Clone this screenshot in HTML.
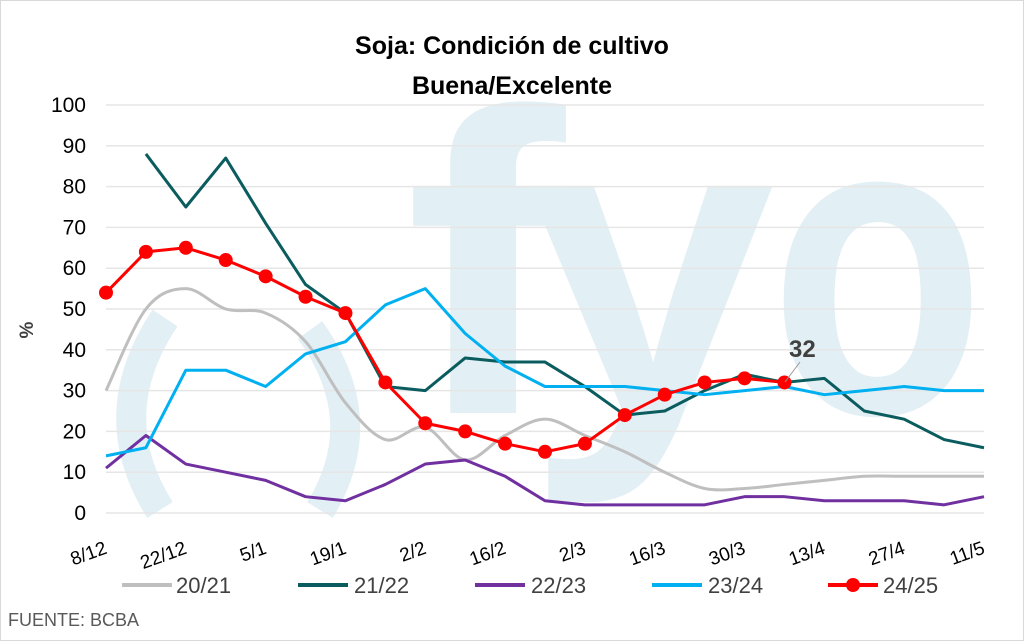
<!DOCTYPE html>
<html><head><meta charset="utf-8"><style>
html,body{margin:0;padding:0;background:#fff}
svg{display:block;font-family:"Liberation Sans",sans-serif}
</style></head><body>
<svg id="s" width="1024" height="641" viewBox="0 0 1024 641" xmlns="http://www.w3.org/2000/svg">
<rect x="0.5" y="0.5" width="1023" height="640" fill="#fff" stroke="#d9d9d9"/>
<g fill="#e2eff4">
<text x="405" y="413" font-size="430" font-weight="bold" textLength="160" lengthAdjust="spacingAndGlyphs">f</text>
<text x="525" y="413" font-size="430" font-weight="bold" textLength="250" lengthAdjust="spacingAndGlyphs">y</text>
<text x="770" y="413" font-size="430" font-weight="bold" textLength="215" lengthAdjust="spacingAndGlyphs">o</text>
</g>
<g fill="none" stroke="#e2eff4" stroke-width="30">
<path d="M165 318 Q100 415 160 510"/>
<path d="M310 330 Q375 420 320 510"/>
</g>
<g stroke="#e6e6e6" stroke-width="1.5" id="grid"></g>
<g font-size="21" fill="#000" text-anchor="end" id="yt"></g>
<text transform="translate(33,330) rotate(-90)" font-size="19" font-weight="bold" fill="#404040" text-anchor="middle">%</text>
<text x="512" y="54" font-size="25" font-weight="bold" text-anchor="middle">Soja: Condición de cultivo</text>
<text x="512" y="94" font-size="25" font-weight="bold" text-anchor="middle">Buena/Excelente</text>
<g id="series"></g>
<g font-size="19" fill="#000" text-anchor="end" id="xt"></g>
<line x1="785" y1="382" x2="800" y2="362" stroke="#999" stroke-width="1"/>
<text x="789" y="357" font-size="24" font-weight="bold" fill="#404040">32</text>
<g font-size="22" fill="#404040">
<line x1="122" y1="585" x2="172" y2="585" stroke="#bfbfbf" stroke-width="4"/><text x="176" y="593">20/21</text>
<line x1="298" y1="585" x2="348" y2="585" stroke="#0a5c5f" stroke-width="4"/><text x="354" y="593">21/22</text>
<line x1="475" y1="585" x2="525" y2="585" stroke="#7030a0" stroke-width="4"/><text x="531" y="593">22/23</text>
<line x1="652" y1="585" x2="702" y2="585" stroke="#00b0f0" stroke-width="4"/><text x="708" y="593">23/24</text>
<line x1="828" y1="585" x2="878" y2="585" stroke="#ff0000" stroke-width="4"/><circle cx="853" cy="585" r="7" fill="#ff0000"/><text x="883" y="593">24/25</text>
</g>
<text x="8" y="626" font-size="18" fill="#595959">FUENTE: BCBA</text>
</svg>
<script>
var NS="http://www.w3.org/2000/svg";
function el(t,a,p){var e=document.createElementNS(NS,t);for(var k in a)e.setAttribute(k,a[k]);if(p)p.appendChild(e);return e;}
var X0=106,X1=984,Y0=513,Y1=105;
function X(i){return X0+i*(X1-X0)/22}
function Y(v){return Y0-v*(Y0-Y1)/100}
var g=document.getElementById('grid'),yt=document.getElementById('yt');
for(var v=0;v<=100;v+=10){el('line',{x1:X0,x2:X1,y1:Y(v),y2:Y(v)},g);var t=el('text',{x:86,y:Y(v)+7},yt);t.textContent=v;}
var labs=["8/12","22/12","5/1","19/1","2/2","16/2","2/3","16/3","30/3","13/4","27/4","11/5"];
var xt=document.getElementById('xt');
labs.forEach(function(l,k){var x=X(k*2)+2,y=553;var t=el('text',{x:x,y:y,transform:"rotate(-20 "+x+" "+y+")"},xt);t.textContent=l;});
var S=document.getElementById('series');
function path(d,start,col,w,smooth){
 var pts=d.map(function(v,i){return [X(i+start),Y(v)]});
 var s="M"+pts[0][0]+" "+pts[0][1];
 if(smooth){for(var i=0;i<pts.length-1;i++){var p0=pts[i-1]||pts[i],p1=pts[i],p2=pts[i+1],p3=pts[i+2]||p2;
  s+=" C"+(p1[0]+(p2[0]-p0[0])/6)+" "+(p1[1]+(p2[1]-p0[1])/6)+" "+(p2[0]-(p3[0]-p1[0])/6)+" "+(p2[1]-(p3[1]-p1[1])/6)+" "+p2[0]+" "+p2[1];}}
 else for(var i=1;i<pts.length;i++)s+=" L"+pts[i][0]+" "+pts[i][1];
 el('path',{d:s,fill:"none",stroke:col,"stroke-width":w,"stroke-linejoin":"round"},S);return pts;}
path([30,50,55,50,49,42,27,18,21,13,19,23,19,15,10,6,6,7,8,9,9,9,9],0,"#bfbfbf",3,true);
path([88,75,87,71,56,49,31,30,38,37,37,31,24,25,30,34,32,33,25,23,18,16],1,"#0a5c5f",3,false);
path([11,19,12,10,8,4,3,7,12,13,9,3,2,2,2,2,4,4,3,3,3,2,4],0,"#7030a0",3,false);
path([14,16,35,35,31,39,42,51,55,44,36,31,31,31,30,29,30,31,29,30,31,30,30],0,"#00b0f0",3,false);
var r=path([54,64,65,62,58,53,49,32,22,20,17,15,17,24,29,32,33,32],0,"#ff0000",3,false);
r.forEach(function(p){el('circle',{cx:p[0],cy:p[1],r:7,fill:"#ff0000"},S)});
</script>
</body></html>
